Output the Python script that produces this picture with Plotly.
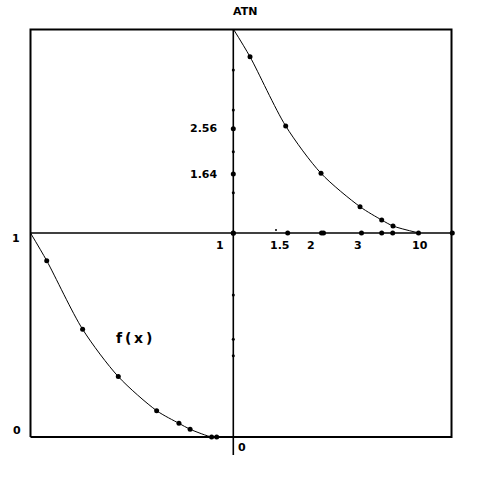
import plotly.graph_objects as go

# ---------------- data (logical units: lower-left quadrant is [0,1]x[0,1]) ----------------
# f(x) curve, lower-left quadrant
fx_curve_x = [0.0, 0.080, 0.257, 0.433, 0.622, 0.732, 0.787, 0.893, 0.918]
fx_curve_y = [1.0, 0.864, 0.528, 0.296, 0.129, 0.067, 0.038, 0.0, 0.0]
fx_dot_x = [0.080, 0.257, 0.433, 0.622, 0.732, 0.787, 0.893, 0.918]
fx_dot_y = [0.864, 0.528, 0.296, 0.129, 0.067, 0.038, 0.0, 0.0]

# ATN curve, upper-right quadrant
atn_curve_x = [1.0, 1.0824, 1.2584, 1.4325, 1.6248, 1.7318, 1.7875, 1.9157]
atn_curve_y = [2.0, 1.864, 1.5245, 1.2926, 1.1289, 1.0637, 1.0343, 1.0]
atn_dot_x = [1.0824, 1.2584, 1.4325, 1.6248, 1.7318, 1.7875]
atn_dot_y = [1.864, 1.5245, 1.2926, 1.1289, 1.0637, 1.0343]

# dots on the horizontal axis (y = 1)
haxis_dot_x = [1.0, 1.2682, 1.4349, 1.4448, 1.6321, 1.7318, 1.7860, 1.9132, 2.0799]
haxis_tiny_x = [1.2105]

# dots on the vertical axis (x = 1)
vaxis_big_y = [1.5113, 1.2892, 0.9985]
vaxis_small_y = [1.799, 1.603, 1.3985, 1.1975, 0.696, 0.479, 0.3985]

# labels
label_texts = ["ATN", "2.56", "1.64", "1", "1.5", "2", "3", "10", "1", "0", "0"]
label_x = [1.0577, 0.9246, 0.9230, 0.9344, 1.2303, 1.3807, 1.6149, 1.9206, -0.0715, -0.069, 1.0429]
label_y = [2.0882, 1.5113, 1.2892, 0.9412, 0.9412, 0.9412, 0.9412, 0.9412, 0.9755, 0.0343, -0.0539]
label_xanchor = ["center", "right", "right", "center", "center", "center", "center", "center",
                 "center", "center", "center"]
fx_label = "f\u2009(\u2009x\u2009)"
fx_label_pos = (0.5089, 0.4877)

# frame / axis extents
FRAME_R, FRAME_T = 2.076, 1.9975
VAXIS_BOTTOM = -0.088
HAXIS_RIGHT = 2.078
X_RANGE = [-0.1504, 2.2707]
Y_RANGE = [-0.2108, 2.1422]

BLACK = "#000000"
FONT = "DejaVu Sans"

fig = go.Figure()

# frame
fig.add_trace(go.Scatter(
    x=[0, FRAME_R, FRAME_R, 0, 0], y=[0, 0, FRAME_T, FRAME_T, 0],
    mode="lines", line=dict(color=BLACK, width=2), hoverinfo="skip"))
# axes
fig.add_trace(go.Scatter(x=[1, 1], y=[VAXIS_BOTTOM, FRAME_T], mode="lines",
                         line=dict(color=BLACK, width=1.6), hoverinfo="skip"))
fig.add_trace(go.Scatter(x=[0, HAXIS_RIGHT], y=[1, 1], mode="lines",
                         line=dict(color=BLACK, width=1.6), hoverinfo="skip"))

# curves
for cx, cy in [(fx_curve_x, fx_curve_y), (atn_curve_x, atn_curve_y)]:
    fig.add_trace(go.Scatter(x=cx, y=cy, mode="lines",
                             line=dict(color=BLACK, width=1, shape="spline", smoothing=0.8),
                             hoverinfo="skip"))

# dots
fig.add_trace(go.Scatter(x=fx_dot_x + atn_dot_x, y=fx_dot_y + atn_dot_y, mode="markers",
                         marker=dict(color=BLACK, size=5), hoverinfo="skip"))
fig.add_trace(go.Scatter(x=haxis_dot_x, y=[1] * len(haxis_dot_x), mode="markers",
                         marker=dict(color=BLACK, size=5), hoverinfo="skip"))
fig.add_trace(go.Scatter(x=haxis_tiny_x, y=[1.015], mode="markers",
                         marker=dict(color=BLACK, size=2), hoverinfo="skip"))
fig.add_trace(go.Scatter(x=[1] * len(vaxis_big_y), y=vaxis_big_y, mode="markers",
                         marker=dict(color=BLACK, size=5), hoverinfo="skip"))
fig.add_trace(go.Scatter(x=[1] * len(vaxis_small_y), y=vaxis_small_y, mode="markers",
                         marker=dict(color=BLACK, size=3), hoverinfo="skip"))

annotations = []
for t, x, y, xa in zip(label_texts, label_x, label_y, label_xanchor):
    annotations.append(dict(x=x, y=y, xref="x", yref="y", text=f"<b>{t}</b>", showarrow=False,
                            xanchor=xa, yanchor="middle", borderpad=0,
                            font=dict(family=FONT, size=11, color=BLACK)))
annotations.append(dict(x=fx_label_pos[0], y=fx_label_pos[1], xref="x", yref="y",
                        text=f"<b>{fx_label}</b>", showarrow=False, xanchor="center",
                        yanchor="middle", font=dict(family=FONT, size=14, color=BLACK)))

fig.update_layout(
    width=491, height=480, margin=dict(l=0, r=0, t=0, b=0),
    paper_bgcolor="white", plot_bgcolor="white", showlegend=False,
    xaxis=dict(range=X_RANGE, visible=False, fixedrange=True),
    yaxis=dict(range=Y_RANGE, visible=False, fixedrange=True),
    annotations=annotations,
)

# remove the browser's default 8px page margin so the figure fills the window exactly
fig.write_html("out.html",
               config={"displayModeBar": False, "staticPlot": True},
               post_script="document.body.style.margin='0';document.body.style.overflow='hidden';")
